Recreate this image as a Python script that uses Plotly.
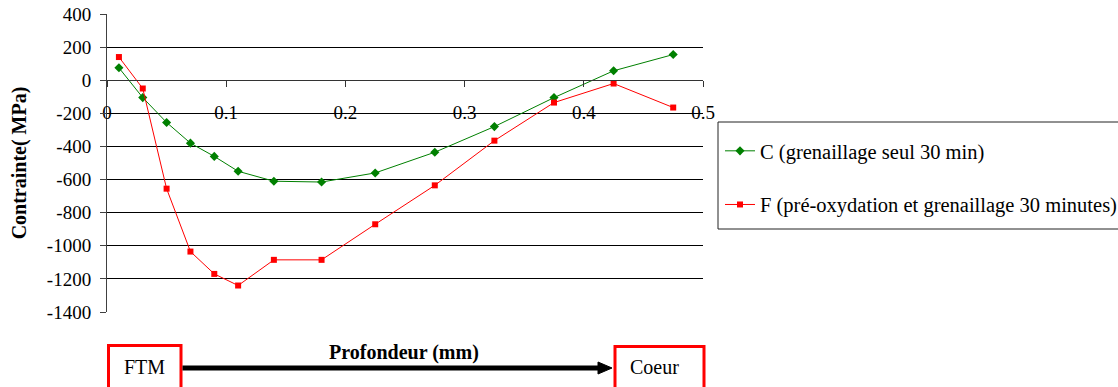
import plotly.graph_objects as go

# ---- data ----
depth_c = [0.01, 0.03, 0.05, 0.07, 0.09, 0.11, 0.14, 0.18, 0.225, 0.275, 0.325, 0.375, 0.425, 0.475]
stress_c = [75, -105, -255, -380, -460, -550, -610, -615, -560, -435, -280, -105, 57, 155]
depth_f = [0.01, 0.03, 0.05, 0.07, 0.09, 0.11, 0.14, 0.18, 0.225, 0.275, 0.325, 0.375, 0.425, 0.475]
stress_f = [140, -50, -655, -1035, -1170, -1240, -1085, -1085, -870, -635, -365, -135, -20, -165]
name_c = "C (grenaillage seul 30 min)"
name_f = "F (pré-oxydation et grenaillage 30 minutes)"
x_ticks = [0, 0.1, 0.2, 0.3, 0.4, 0.5]
y_ticks = [400, 200, 0, -200, -400, -600, -800, -1000, -1200, -1400]

W, H = 1118, 387
ML, MR, MT, MB = 107, 415, 14, 75
PW, PH = W - ML - MR, H - MT - MB


def px(x):
    return (x - ML) / PW


def py(y):
    return (H - MB - y) / PH


FONT = "Liberation Serif"

fig = go.Figure()
fig.add_trace(go.Scatter(x=depth_c, y=stress_c, name=name_c, mode="lines+markers",
                         line=dict(color="#008000", width=1),
                         marker=dict(symbol="diamond", size=7, color="#008000"),
                         legendgroup="c"))
fig.add_trace(go.Scatter(x=depth_f, y=stress_f, name=name_f, mode="lines+markers",
                         line=dict(color="#ff0000", width=1),
                         marker=dict(symbol="square", size=6, color="#ff0000"),
                         legendgroup="f"))

shapes = [
    # legend frame
    dict(type="rect", xref="paper", yref="paper", x0=px(718), x1=px(1130), y0=py(229), y1=py(122),
         line=dict(color="#222222", width=1)),
    # FTM box
    dict(type="rect", xref="paper", yref="paper", x0=px(108.5), x1=px(181), y0=py(395), y1=py(345.5),
         line=dict(color="#ff0000", width=3)),
    # Coeur box
    dict(type="rect", xref="paper", yref="paper", x0=px(615), x1=px(704), y0=py(395), y1=py(346.5),
         line=dict(color="#ff0000", width=3)),
    # arrow shaft
    dict(type="line", xref="paper", yref="paper", x0=px(182.5), x1=px(600), y0=py(368), y1=py(368),
         line=dict(color="black", width=5)),
    # arrow head
    dict(type="path", xref="paper", yref="paper",
         path=f"M {px(598)} {py(362)} L {px(612)} {py(368)} L {px(598)} {py(374)} Z",
         fillcolor="black", line=dict(color="black", width=1)),
]

annotations = [
    dict(text="FTM", xref="paper", yref="paper", x=px(144), y=py(367), showarrow=False,
         font=dict(family=FONT, size=20, color="black"), xanchor="center", yanchor="middle"),
    dict(text="Coeur", xref="paper", yref="paper", x=px(654), y=py(367), showarrow=False,
         font=dict(family=FONT, size=20, color="black"), xanchor="center", yanchor="middle"),
    dict(text="<b>Profondeur (mm)</b>", xref="paper", yref="paper", x=px(404), y=py(352), showarrow=False,
         font=dict(family=FONT, size=20, color="black"), xanchor="center", yanchor="middle"),
]

fig.update_layout(
    width=W, height=H,
    margin=dict(l=ML, r=MR, t=MT, b=MB, autoexpand=False),
    paper_bgcolor="white", plot_bgcolor="white",
    font=dict(family=FONT, size=19, color="black"),
    showlegend=True,
    legend=dict(x=px(720), y=py(131), xanchor="left", yanchor="top",
                bgcolor="rgba(0,0,0,0)", borderwidth=0,
                font=dict(family=FONT, size=20.5, color="black"),
                traceorder="grouped", tracegroupgap=24, itemwidth=30),
    xaxis=dict(range=[0, 0.5], tickvals=x_ticks, ticktext=[f"{v:g}" for v in x_ticks],
               anchor="free", position=1400 / 1800,
               showline=True, linecolor="#333333", linewidth=1,
               ticks="outside", ticklen=6, tickcolor="#333333",
               ticklabelstandoff=9,
               showgrid=False, zeroline=False,
               tickfont=dict(family=FONT, size=19, color="black")),
    yaxis=dict(range=[-1400, 400], tickvals=y_ticks, ticktext=[str(v) for v in y_ticks],
               showline=True, linecolor="#404040", linewidth=1,
               ticks="outside", ticklen=6, tickcolor="#404040",
               ticklabelstandoff=5,
               showgrid=True, gridcolor="black", gridwidth=1, zeroline=False,
               tickfont=dict(family=FONT, size=19, color="black"),
               title=dict(text="<b>Contrainte( MPa)</b>", standoff=14,
                          font=dict(family=FONT, size=20, color="black"))),
    shapes=shapes,
    annotations=annotations,
)

fig.write_html("out.html", config={"displayModeBar": False},
               post_script="document.body.style.margin='0';")
